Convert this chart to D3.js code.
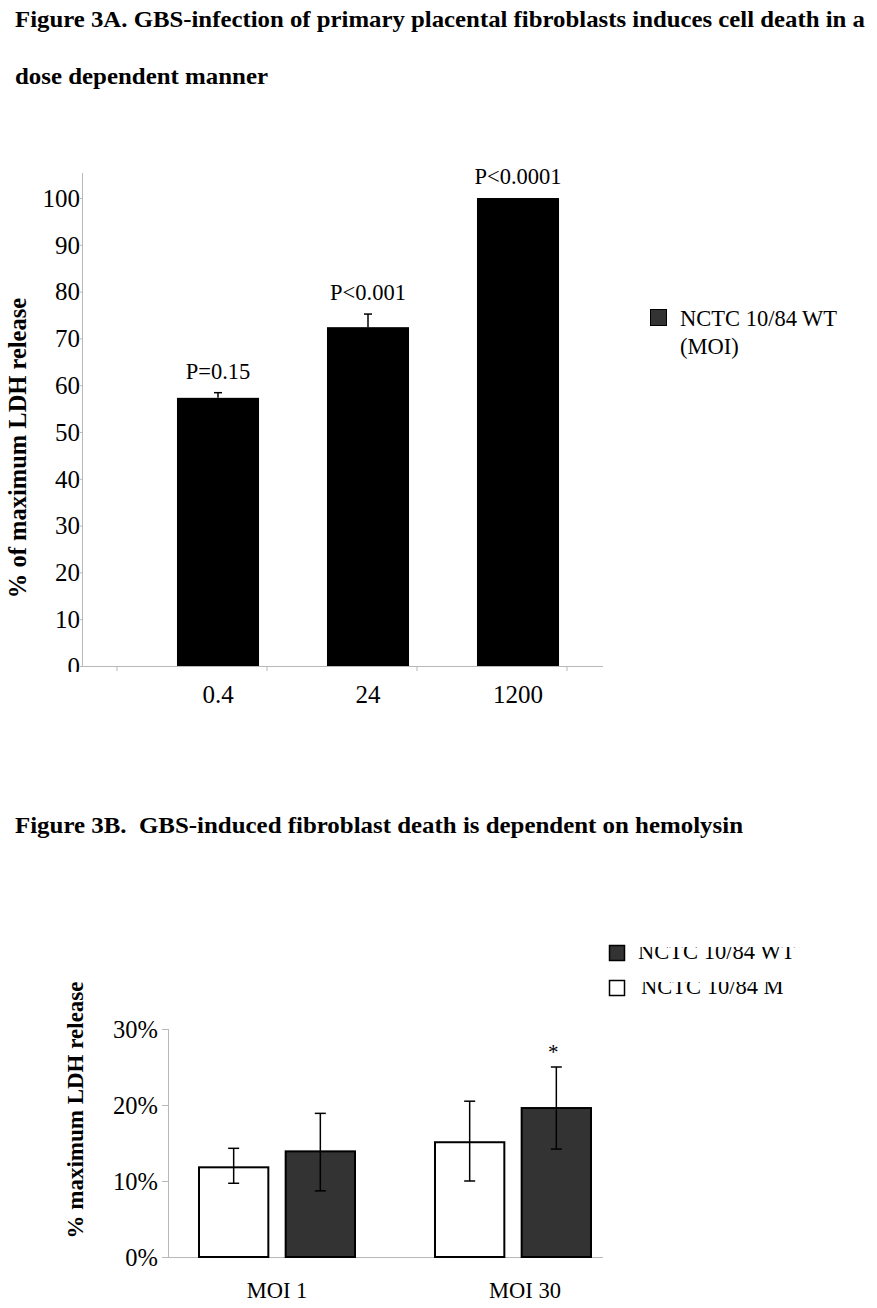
<!DOCTYPE html>
<html>
<head>
<meta charset="utf-8">
<script src="https://cdn.jsdelivr.net/npm/d3@7"></script>
<style>
  html, body { margin: 0; padding: 0; background: #fff; }
  svg { display: block; }
  text { font-family: "Liberation Serif", "Times New Roman", serif; fill: #000; }
</style>
</head>
<body>
<svg id="chart" width="877" height="1308"></svg>
<script>
// ---------- Data: Figure 3A ----------
const moiCategories = ["0.4", "24", "1200"];
const ldhPercent = [57.3, 72.4, 100];
const ldhErrUpper = [58.4, 75.2, 100];
const pLabels = ["P=0.15", "P<0.001", "P<0.0001"];
const yTicksA = [0, 10, 20, 30, 40, 50, 60, 70, 80, 90, 100];
const legendA = ["NCTC 10/84 WT", "(MOI)"];

// ---------- Data: Figure 3B ----------
const groupsB = ["MOI 1", "MOI 30"];
const strainsB = ["M", "WT"];           // drawn order: mutant (white) then WT (dark)
const mutantMean = [11.8, 15.1];
const mutantLow = [9.7, 10.0];
const mutantHigh = [14.3, 20.5];
const wtMean = [13.9, 19.6];
const wtLow = [8.7, 14.2];
const wtHigh = [18.9, 25.0];
const sigB = ["", "*"];
const yTicksB = [0, 10, 20, 30];
const legendB = ["NCTC 10/84 WT", "NCTC 10/84 M"];

const titleA1 = "Figure 3A. GBS-infection of primary placental fibroblasts induces cell death in a";
const titleA2 = "dose dependent manner";
const titleB = "Figure 3B.  GBS-induced fibroblast death is dependent on hemolysin";

const svg = d3.select("#chart");
const axisGrey = "#b8b8b8";
const dark = "#333333";

// ---------- Titles ----------
svg.append("text").attr("x", 15).attr("y", 27)
  .attr("font-weight", "bold").attr("font-size", 24)
  .attr("textLength", 850).attr("lengthAdjust", "spacingAndGlyphs")
  .text(titleA1);
svg.append("text").attr("x", 15).attr("y", 84)
  .attr("font-weight", "bold").attr("font-size", 24)
  .attr("textLength", 253).attr("lengthAdjust", "spacingAndGlyphs")
  .text(titleA2);
svg.append("text").attr("x", 15).attr("y", 833)
  .attr("font-weight", "bold").attr("font-size", 24)
  .style("white-space", "pre")
  .attr("textLength", 728).attr("lengthAdjust", "spacingAndGlyphs")
  .text(titleB);

// ---------- Figure 3A ----------
const yA = d3.scaleLinear().domain([0, 100]).range([666, 198]);
const xA = d3.scaleBand().domain(moiCategories).range([143, 593])
  .paddingInner(0.453).paddingOuter(0.2265);
const gA = svg.append("g");

const defs = svg.append("defs");
defs.append("clipPath").attr("id", "clipA")
  .append("rect").attr("x", 0).attr("y", 150).attr("width", 90).attr("height", 522);

// y axis
gA.append("line").attr("x1", 82.5).attr("x2", 82.5).attr("y1", 173).attr("y2", 666)
  .attr("stroke", axisGrey).attr("stroke-width", 1);
gA.append("g").attr("clip-path", "url(#clipA)")
  .selectAll("text").data(yTicksA).join("text")
  .attr("x", 80).attr("y", d => yA(d)).attr("dy", "0.35em")
  .attr("text-anchor", "end").attr("font-size", 25)
  .text(d => d);
gA.selectAll("line.ytick").data(yTicksA).join("line").attr("class", "ytick")
  .attr("x1", 80).attr("x2", 82.5).attr("y1", d => yA(d) + 0.5).attr("y2", d => yA(d) + 0.5)
  .attr("stroke", axisGrey);

// x axis
gA.append("line").attr("x1", 82).attr("x2", 603).attr("y1", 666.5).attr("y2", 666.5)
  .attr("stroke", axisGrey);
const tickPosA = moiCategories.map(c => xA(c) - 0.4 * xA.step()).concat([xA(moiCategories[2]) + 0.6 * xA.step()]);
gA.selectAll("line.xtick").data(tickPosA).join("line").attr("class", "xtick")
  .attr("x1", d => d).attr("x2", d => d).attr("y1", 666).attr("y2", 671)
  .attr("stroke", axisGrey);
gA.selectAll("text.xlab").data(moiCategories).join("text").attr("class", "xlab")
  .attr("x", d => xA(d) + xA.bandwidth() / 2).attr("y", 703)
  .attr("text-anchor", "middle").attr("font-size", 25).text(d => d);

// bars
gA.selectAll("rect.bar").data(moiCategories).join("rect").attr("class", "bar")
  .attr("x", d => xA(d)).attr("width", xA.bandwidth())
  .attr("y", (d, i) => yA(ldhPercent[i])).attr("height", (d, i) => yA(0) - yA(ldhPercent[i]))
  .attr("fill", "#000");
// error bars (upper only)
moiCategories.forEach((c, i) => {
  if (ldhErrUpper[i] <= ldhPercent[i]) return;
  const cx = xA(c) + xA.bandwidth() / 2;
  gA.append("line").attr("x1", cx).attr("x2", cx)
    .attr("y1", yA(ldhPercent[i])).attr("y2", yA(ldhErrUpper[i]))
    .attr("stroke", "#000").attr("stroke-width", 1.5);
  gA.append("line").attr("x1", cx - 4).attr("x2", cx + 4)
    .attr("y1", yA(ldhErrUpper[i])).attr("y2", yA(ldhErrUpper[i]))
    .attr("stroke", "#000").attr("stroke-width", 1.5);
});
// p-value labels
gA.selectAll("text.plab").data(moiCategories).join("text").attr("class", "plab")
  .attr("x", d => xA(d) + xA.bandwidth() / 2)
  .attr("y", (d, i) => yA(ldhErrUpper[i]) - 14)
  .attr("text-anchor", "middle").attr("font-size", 22.5)
  .text((d, i) => pLabels[i]);

// y axis title
gA.append("text").attr("transform", "translate(26,448) rotate(-90)")
  .attr("text-anchor", "middle").attr("font-weight", "bold").attr("font-size", 24.5)
  .text("% of maximum LDH release");

// legend
gA.append("rect").attr("x", 650.5).attr("y", 309.5).attr("width", 16).attr("height", 16)
  .attr("fill", dark).attr("stroke", "#000").attr("stroke-width", 1);
gA.selectAll("text.leg").data(legendA).join("text").attr("class", "leg")
  .attr("x", 680).attr("y", (d, i) => 326 + i * 28).attr("font-size", 22.5).text(d => d);

// ---------- Figure 3B ----------
const yB = d3.scaleLinear().domain([0, 30]).range([1257, 1029]);
const xB = d3.scaleBand().domain(groupsB).range([159, 631]).paddingInner(0.339).paddingOuter(0.1695);
const xSub = d3.scaleBand().domain(strainsB).range([0, xB.bandwidth()]).paddingInner(0.2).paddingOuter(0);
const gB = svg.append("g");

// y axis
gB.append("line").attr("x1", 168.5).attr("x2", 168.5).attr("y1", 1029).attr("y2", 1257)
  .attr("stroke", axisGrey);
gB.selectAll("line.ytick").data(yTicksB).join("line").attr("class", "ytick")
  .attr("x1", 162).attr("x2", 168.5).attr("y1", d => yB(d) + 0.5).attr("y2", d => yB(d) + 0.5)
  .attr("stroke", axisGrey);
gB.selectAll("text.ylab").data(yTicksB).join("text").attr("class", "ylab")
  .attr("x", 158).attr("y", d => yB(d)).attr("dy", "0.35em")
  .attr("text-anchor", "end").attr("font-size", 24.5).text(d => d + "%");
// x axis
gB.append("line").attr("x1", 168).attr("x2", 603).attr("y1", 1257.5).attr("y2", 1257.5)
  .attr("stroke", axisGrey);
gB.selectAll("text.xlab").data(groupsB).join("text").attr("class", "xlab")
  .attr("x", d => xB(d) + xB.bandwidth() / 2 + (d === "MOI 30" ? 12 : 0)).attr("y", 1298)
  .attr("text-anchor", "middle").attr("font-size", 22.5).text(d => d);

// bars
const rowsB = [];
groupsB.forEach((g, i) => {
  rowsB.push({ g, s: "M", mean: mutantMean[i], lo: mutantLow[i], hi: mutantHigh[i], sig: "" });
  rowsB.push({ g, s: "WT", mean: wtMean[i], lo: wtLow[i], hi: wtHigh[i], sig: sigB[i] });
});
gB.selectAll("rect.bar").data(rowsB).join("rect").attr("class", "bar")
  .attr("x", d => xB(d.g) + xSub(d.s)).attr("width", xSub.bandwidth())
  .attr("y", d => yB(d.mean)).attr("height", d => yB(0) - yB(d.mean))
  .attr("fill", d => d.s === "WT" ? dark : "#fff")
  .attr("stroke", "#000").attr("stroke-width", 2);
rowsB.forEach(d => {
  const cx = xB(d.g) + xSub(d.s) + xSub.bandwidth() / 2;
  gB.append("line").attr("x1", cx).attr("x2", cx).attr("y1", yB(d.hi)).attr("y2", yB(d.lo))
    .attr("stroke", "#000").attr("stroke-width", 1.5);
  [d.hi, d.lo].forEach(v => {
    gB.append("line").attr("x1", cx - 5.5).attr("x2", cx + 5.5).attr("y1", yB(v)).attr("y2", yB(v))
      .attr("stroke", "#000").attr("stroke-width", 1.5);
  });
  if (d.sig) {
    gB.append("text").attr("x", cx - 3).attr("y", yB(d.hi) - 8)
      .attr("text-anchor", "middle").attr("font-size", 21).text(d.sig);
  }
});

// y axis title
gB.append("text").attr("transform", "translate(83,1110) rotate(-90)")
  .attr("text-anchor", "middle").attr("font-weight", "bold").attr("font-size", 23)
  .text("% maximum LDH release");

// legend (text clipped at top as in the original)
const legFills = [dark, "#fff"];
const legY = [945, 980];
legendB.forEach((t, i) => {
  const cid = "clipLegB" + i;
  defs.append("clipPath").attr("id", cid)
    .append("rect").attr("x", 630).attr("y", legY[i] + 2).attr("width", 240).attr("height", 30);
  gB.append("rect").attr("x", 609.5).attr("y", legY[i] + 0.5).attr("width", 15).attr("height", 15)
    .attr("fill", legFills[i]).attr("stroke", "#000").attr("stroke-width", 1.5);
  gB.append("text").attr("clip-path", "url(#" + cid + ")")
    .attr("x", i === 0 ? 638 : 641).attr("y", legY[i] + 14).attr("font-size", 22.5).text(t);
});
</script>
</body>
</html>
